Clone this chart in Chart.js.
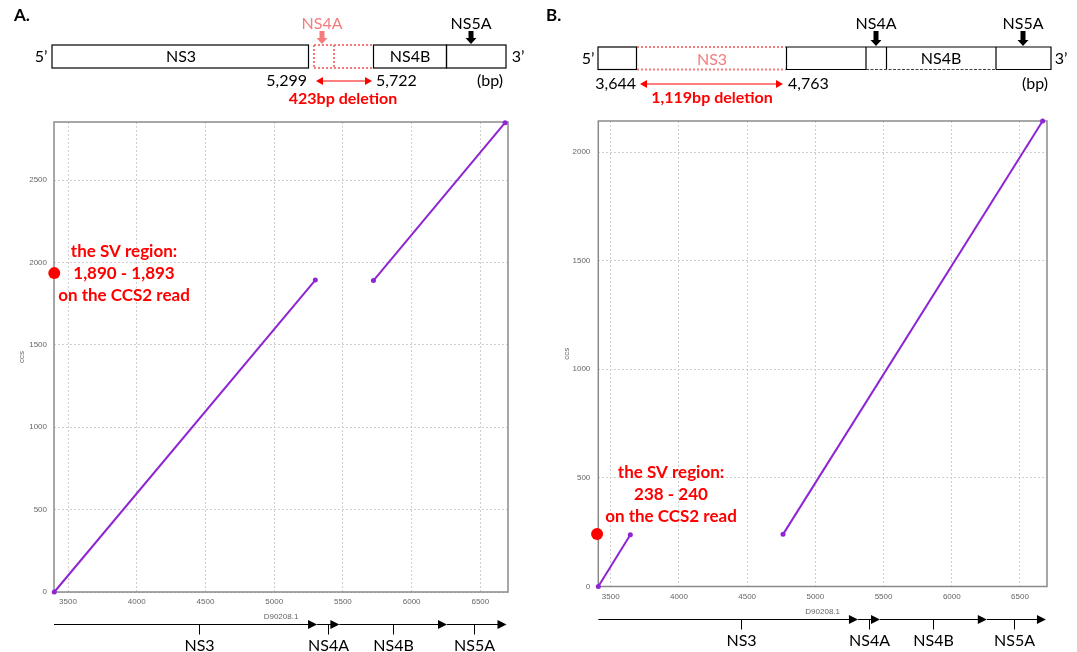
<!DOCTYPE html>
<html>
<head>
<meta charset="utf-8">
<script src="https://cdn.jsdelivr.net/npm/chart.js@4.4.0/dist/chart.umd.min.js"></script>
<style>
    body { margin: 0; background: #fff; width: 1077px; height: 652px; position: relative; overflow: hidden; }
    .panel { position: absolute; top: 0; height: 652px; }
    #panelA { left: 0; width: 540px; }
    #panelB { left: 540px; width: 537px; }
</style>
</head>
<body>
<div class="panel" id="panelA"><canvas id="chartA" width="540" height="652"></canvas></div>
<div class="panel" id="panelB"><canvas id="chartB" width="537" height="652"></canvas></div>
<script>
// tick labels
var xTicks = [3500, 4000, 4500, 5000, 5500, 6000, 6500];
var yTicksA = [0, 500, 1000, 1500, 2000, 2500];
var yTicksB = [0, 500, 1000, 1500, 2000];

// axis ranges
var xRangeA = [3398, 6701];
var yRangeA = [0, 2852];
var xRangeB = [3409, 6698];
var yRangeB = [0, 2143];

// A : alignment of CCS2 read on D90208.1 (ref position / ccs position)
var refA1 = [3400, 5299];
var ccsA1 = [0, 1893];
var refA2 = [5722, 6680];
var ccsA2 = [1890, 2848];

// B
var refB1 = [3409, 3644];
var ccsB1 = [0, 238];
var refB2 = [4763, 6666];
var ccsB2 = [240, 2143];

// SV markers (ref, ccs)
var svA = [3400, 1935];
var svB = [3400, 242];

// genes under the x axis
var geneNames = ['NS3', 'NS4A', 'NS4B', 'NS5A'];
var geneEnds = [5312, 5474, 6257, 6690];
var geneMarks = [4455, 5390, 5866, 6455];

var svTextA = ['the SV region:', '1,890 - 1,893', 'on the CCS2 read'];
var svTextB = ['the SV region:', '238 - 240', 'on the CCS2 read'];

var PURPLE = '#8e24d4';
var PINK = '#f47c7c';
var RED = '#ff0000';
var FONT = 'Lato, "Open Sans", sans-serif';
var AXFONT = '"Liberation Sans", Arial, sans-serif';

function toPoints(xs, ys) {
    return xs.map(function (x, i) { return {x: x, y: ys[i]}; });
}

function lineSet(points) {
    return {
        data: points,
        showLine: true,
        borderColor: PURPLE,
        backgroundColor: PURPLE,
        borderWidth: 2,
        pointRadius: 2.5,
        pointBorderWidth: 0,
        clip: false
    };
}

function text(ctx, str, x, y, align, font, color) {
    ctx.font = font;
    ctx.fillStyle = color;
    ctx.textAlign = align;
    ctx.textBaseline = 'middle';
    ctx.fillText(str, x, y);
}

/**
 * Thick down arrow above a box
 */
function downArrow(ctx, x, yTop, yBot, color) {
    ctx.fillStyle = color;
    ctx.beginPath();
    ctx.moveTo(x - 2.5, yTop);
    ctx.lineTo(x + 2.5, yTop);
    ctx.lineTo(x + 2.5, yBot - 6);
    ctx.lineTo(x + 5.5, yBot - 6);
    ctx.lineTo(x, yBot);
    ctx.lineTo(x - 5.5, yBot - 6);
    ctx.lineTo(x - 2.5, yBot - 6);
    ctx.closePath();
    ctx.fill();
}

/**
 * Red double arrow for the deletion
 */
function doubleArrow(ctx, x1, x2, y, color) {
    ctx.strokeStyle = color;
    ctx.fillStyle = color;
    ctx.lineWidth = 1.2;
    ctx.setLineDash([]);
    ctx.beginPath();
    ctx.moveTo(x1 + 5, y);
    ctx.lineTo(x2 - 5, y);
    ctx.stroke();
    ctx.beginPath();
    ctx.moveTo(x1, y); ctx.lineTo(x1 + 7, y - 4); ctx.lineTo(x1 + 7, y + 4); ctx.closePath();
    ctx.moveTo(x2, y); ctx.lineTo(x2 - 7, y - 4); ctx.lineTo(x2 - 7, y + 4); ctx.closePath();
    ctx.fill();
}

function box(ctx, x1, x2, y1, y2) {
    ctx.strokeStyle = '#000';
    ctx.lineWidth = 1.2;
    ctx.setLineDash([]);
    ctx.strokeRect(x1, y1, x2 - x1, y2 - y1);
}

function dottedLine(ctx, x1, y1, x2, y2, color, width, dash) {
    ctx.strokeStyle = color;
    ctx.lineWidth = width;
    ctx.setLineDash(dash);
    ctx.beginPath();
    ctx.moveTo(x1, y1);
    ctx.lineTo(x2, y2);
    ctx.stroke();
    ctx.setLineDash([]);
}

function drawDiagramA(ctx) {
    text(ctx, 'A.', 14, 16, 'left', 'bold 17px ' + FONT, '#000');
    let t = 45, b = 68, mid = 57;
    box(ctx, 52, 308.5, t, b);
    box(ctx, 373.5, 446.5, t, b);
    box(ctx, 446.5, 506, t, b);
    // deleted region
    dottedLine(ctx, 314, t, 372, t, PINK, 2, [2, 2]);
    dottedLine(ctx, 314, b, 372, b, PINK, 2, [2, 2]);
    dottedLine(ctx, 314, t, 314, b, PINK, 2, [2, 2]);
    dottedLine(ctx, 334, t, 334, b, PINK, 2, [2, 2]);
    text(ctx, '5\u2019', 41, mid, 'center', '16px ' + FONT, '#000');
    text(ctx, '3\u2019', 518, mid, 'center', '16px ' + FONT, '#000');
    text(ctx, 'NS3', 181, mid, 'center', '16px ' + FONT, '#000');
    text(ctx, 'NS4B', 410, mid, 'center', '16px ' + FONT, '#000');
    text(ctx, 'NS4A', 322, 24, 'center', '16px ' + FONT, PINK);
    downArrow(ctx, 322, 31, 44, PINK);
    text(ctx, 'NS5A', 471, 24, 'center', '16px ' + FONT, '#000');
    downArrow(ctx, 471, 31, 44, '#000');
    text(ctx, '5,299', 307, 81, 'right', '16px ' + FONT, '#000');
    text(ctx, '5,722', 376, 81, 'left', '16px ' + FONT, '#000');
    text(ctx, '(bp)', 490, 81, 'center', '16px ' + FONT, '#000');
    doubleArrow(ctx, 316, 372, 81, RED);
    text(ctx, '423bp deletion', 343, 99, 'center', 'bold 16px ' + FONT, RED);
}

function drawDiagramB(ctx) {
    text(ctx, 'B.', 6, 16, 'left', 'bold 17px ' + FONT, '#000');
    let t = 47, b = 69.5, mid = 58.5;
    box(ctx, 58, 96.5, t, b);
    // deleted region
    dottedLine(ctx, 97, t, 246, t, PINK, 2, [2, 2]);
    dottedLine(ctx, 97, b, 246, b, PINK, 2, [2, 2]);
    ctx.strokeStyle = '#000';
    ctx.lineWidth = 1.2;
    ctx.beginPath();
    ctx.moveTo(326, b); ctx.lineTo(246.5, b); ctx.lineTo(246.5, t); ctx.lineTo(511, t);
    ctx.lineTo(511, b); ctx.lineTo(456, b);
    ctx.moveTo(326, t); ctx.lineTo(326, b);
    ctx.moveTo(346.5, t); ctx.lineTo(346.5, b);
    ctx.moveTo(456, t); ctx.lineTo(456, b);
    ctx.stroke();
    dottedLine(ctx, 326, b, 456, b, '#444', 1.2, [3, 1.5]);
    text(ctx, '5\u2019', 48, mid, 'center', '16px ' + FONT, '#000');
    text(ctx, '3\u2019', 521, mid, 'center', '16px ' + FONT, '#000');
    text(ctx, 'NS3', 172, mid + 1, 'center', '16px ' + FONT, PINK);
    text(ctx, 'NS4B', 401, mid, 'center', '16px ' + FONT, '#000');
    text(ctx, 'NS4A', 336, 24, 'center', '16px ' + FONT, '#000');
    downArrow(ctx, 336, 31, 46, '#000');
    text(ctx, 'NS5A', 483, 24, 'center', '16px ' + FONT, '#000');
    downArrow(ctx, 483, 31, 46, '#000');
    text(ctx, '3,644', 96, 84, 'right', '16px ' + FONT, '#000');
    text(ctx, '4,763', 248, 84, 'left', '16px ' + FONT, '#000');
    text(ctx, '(bp)', 495, 84, 'center', '16px ' + FONT, '#000');
    doubleArrow(ctx, 100, 243, 84, RED);
    text(ctx, '1,119bp deletion', 172, 98, 'center', 'bold 16px ' + FONT, RED);
}

/**
 * Gene arrows under the x axis, positioned with the x scale
 */
function drawTrack(chart, y) {
    let ctx = chart.ctx;
    let xs = chart.scales.x;
    let start = chart.chartArea.left;
    ctx.strokeStyle = '#000';
    ctx.fillStyle = '#000';
    ctx.lineWidth = 1;
    ctx.setLineDash([]);
    geneEnds.forEach(function (end) {
        let px = xs.getPixelForValue(end);
        ctx.beginPath();
        ctx.moveTo(start, y);
        ctx.lineTo(px - 6, y);
        ctx.stroke();
        ctx.beginPath();
        ctx.moveTo(px, y);
        ctx.lineTo(px - 9, y - 4.5);
        ctx.lineTo(px - 9, y + 4.5);
        ctx.closePath();
        ctx.fill();
        start = px;
    });
    geneMarks.forEach(function (m, i) {
        let px = Math.round(xs.getPixelForValue(m)) + 0.5;
        ctx.beginPath();
        ctx.moveTo(px, y);
        ctx.lineTo(px, y + 10);
        ctx.stroke();
        text(ctx, geneNames[i], px, y + 21, 'center', '16px ' + FONT, '#000');
    });
}

function drawSvText(ctx, lines, x, y) {
    lines.forEach(function (l, i) {
        text(ctx, l, x, y + i * 22, 'center', 'bold 17px ' + FONT, RED);
    });
}

function panelPlugin(opts) {
    return {
        id: 'panel' + opts.name,
        beforeDatasetsDraw: function (chart) {
            let a = chart.chartArea;
            let ctx = chart.ctx;
            ctx.save();
            ctx.strokeStyle = '#8a8a8a';
            ctx.lineWidth = 1.5;
            ctx.strokeRect(a.left, a.top, a.right - a.left, a.bottom - a.top);
            ctx.restore();
        },
        afterDraw: function (chart) {
            let ctx = chart.ctx;
            ctx.save();
            opts.diagram(ctx);
            drawTrack(chart, opts.trackY);
            drawSvText(ctx, opts.svText, opts.svTextX, opts.svTextY);
            ctx.restore();
        }
    };
}

function buildPanel(id, opts) {
    let ctx = document.getElementById(id).getContext('2d');
    return new Chart(ctx, {
        type: 'scatter',
        data: {
            datasets: [
                lineSet(toPoints(opts.seg1x, opts.seg1y)),
                lineSet(toPoints(opts.seg2x, opts.seg2y)),
                {
                    data: [{x: opts.sv[0], y: opts.sv[1]}],
                    showLine: false,
                    pointRadius: 6,
                    pointBorderWidth: 0,
                    backgroundColor: RED,
                    clip: false
                }
            ]
        },
        options: {
            responsive: false,
            animation: false,
            events: [],
            layout: {padding: opts.padding},
            plugins: {legend: {display: false}, tooltip: {enabled: false}},
            scales: {
                x: {
                    type: 'linear',
                    min: opts.xRange[0],
                    max: opts.xRange[1],
                    afterBuildTicks: function (s) { s.ticks = xTicks.map(function (v) { return {value: v}; }); },
                    afterFit: function (s) { s.height = 30; },
                    grid: {color: '#cfcfcf', lineWidth: 1, drawTicks: false},
                    border: {display: false, dash: [2, 2]},
                    ticks: {
                        font: {family: AXFONT, size: 8}, color: '#666', padding: opts.xPad,
                        maxRotation: 0, autoSkip: false,
                        callback: function (v) { return String(v); }
                    },
                    title: {display: true, text: 'D90208.1', font: {family: AXFONT, size: 8}, color: '#666', padding: 0}
                },
                y: {
                    type: 'linear',
                    min: opts.yRange[0],
                    max: opts.yRange[1],
                    afterBuildTicks: function (s) { s.ticks = opts.yTicks.map(function (v) { return {value: v}; }); },
                    afterFit: function (s) { s.width = opts.yWidth; },
                    grid: {color: '#cfcfcf', lineWidth: 1, drawTicks: false},
                    border: {display: false, dash: [2, 2]},
                    ticks: {
                        font: {family: AXFONT, size: 8}, color: '#666', padding: opts.yPad,
                        autoSkip: false,
                        callback: function (v) { return String(v); }
                    },
                    title: {display: true, text: 'ccs', font: {family: AXFONT, size: 8}, color: '#666', padding: {top: opts.yTitlePad, bottom: 0}}
                }
            }
        },
        plugins: [panelPlugin(opts)]
    });
}

buildPanel('chartA', {
    name: 'A',
    seg1x: refA1, seg1y: ccsA1, seg2x: refA2, seg2y: ccsA2, sv: svA,
    xRange: xRangeA, yRange: yRangeA, yTicks: yTicksA,
    padding: {left: 0, top: 122, right: 32, bottom: 30},
    yWidth: 54, yPad: 7, xPad: 5, yTitlePad: 17,
    diagram: drawDiagramA, trackY: 624.5,
    svText: svTextA, svTextX: 124, svTextY: 252
});

buildPanel('chartB', {
    name: 'B',
    seg1x: refB1, seg1y: ccsB1, seg2x: refB2, seg2y: ccsB2, sv: svB,
    xRange: xRangeB, yRange: yRangeB, yTicks: yTicksB,
    padding: {left: 0, top: 121, right: 30, bottom: 35.5},
    yWidth: 58.3, yPad: 8, xPad: 5, yTitlePad: 22,
    diagram: drawDiagramB, trackY: 619.5,
    svText: svTextB, svTextX: 131, svTextY: 473
});
</script>
</body>
</html>
